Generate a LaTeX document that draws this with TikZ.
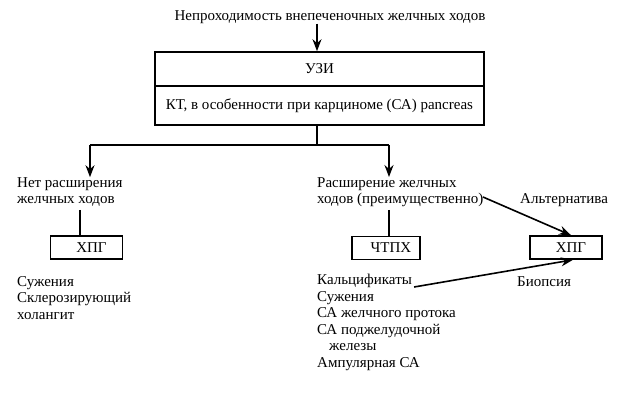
\documentclass[tikz,border=0pt]{standalone}
\usepackage{fontspec}
\setmainfont{Liberation Serif}
\usepackage{tikz}
\usetikzlibrary{arrows.meta, calc}

\begin{document}
\begin{tikzpicture}[x=1pt, y=-1pt,
  every node/.style={font=\fontsize{15}{16.5}\selectfont, inner sep=0pt},
  txt/.style={align=left, anchor=west},
  boxx/.style={draw, line width=1.6pt, minimum width=72pt, minimum height=23pt},
  lnk/.style={line width=1.6pt},
  arr/.style={line width=1.6pt, -{Stealth[length=12pt, width=9pt]}}]
\useasboundingbox (0,0) rectangle (638,400);

% top part
\node (head) at (330,17) {Непроходимость внепеченочных желчных ходов};
\node[draw, line width=1.6pt, minimum width=329pt, minimum height=34pt] (uzi) at (319.5,69) {УЗИ};
\node[draw, line width=1.6pt, minimum width=329pt, minimum height=39pt] (kt) at (319.5,105.5)
      {КТ, в особенности при карциноме (СА) pancreas};
\draw[arr] (head.south -| 317,0) -- (uzi.north -| 317,0);

% branches
\coordinate (split) at ($(kt.south -| 317,0) + (0,20)$);
\node[txt] (nodil) at (17,192) {Нет расширения\\желчных ходов};
\node[txt] (dil) at (317,192) {Расширение желчных\\ходов (преимущественно)};
\draw[lnk] (kt.south -| 317,0) -- (split);
\draw[lnk] (90,145) -- (389,145);
\draw[arr] (90,145) -- (nodil.north -| 90,0);
\draw[arr] (389,145) -- (dil.north -| 389,0);

% boxes
\node[boxx] (hpgl) at (86.5,247.5) {\hspace{10pt}ХПГ};
\node[boxx, minimum width=68pt] (ctph) at (386,248) {\hspace{10pt}ЧТПХ};
\node[boxx] (hpgr) at (566,247.5) {\hspace{10pt}ХПГ};
\draw[lnk] (nodil.south -| 80,0) ++(0,3) -- (hpgl.north -| 80,0);
\draw[lnk] (dil.south -| 389,0) ++(0,3) -- (ctph.north -| 389,0);

% lists
\node[txt] (lstl) at (17,298) {Сужения\\Склерозирующий\\холангит};
\node[txt, anchor=north west] (calc) at (317,274) {Кальцификаты};
\node[txt, anchor=north west] (lstr) at (317,291) {Сужения\\СА желчного протока\\СА поджелудочной\\\hspace{12pt}железы\\Ампулярная СА};

% alternatives
\node[txt] (alt) at (520,200) {Альтернатива};
\node[txt] (bio) at (517,282) {Биопсия};
\coordinate (dilend) at (483,197);
\draw[arr] (dilend) -- (hpgr.north -| 571,0);
\draw[arr] ($(calc.east) + (2,6)$) -- (hpgr.south -| 573,0);
\end{tikzpicture}
\end{document}
